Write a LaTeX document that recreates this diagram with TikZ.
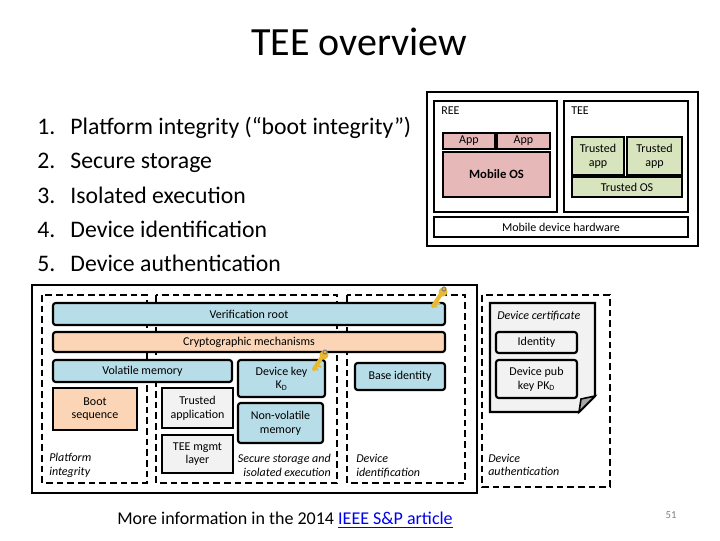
\documentclass[tikz,border=0pt]{standalone}
\usepackage{fontspec}
\setmainfont{Carlito}
\usetikzlibrary{calc}
\definecolor{cblue}{HTML}{B7DDE8}
\definecolor{corange}{HTML}{FBD5B5}
\definecolor{cpink}{HTML}{E6B9B8}
\definecolor{cgreen}{HTML}{D7E4BD}
\definecolor{cgray}{HTML}{F2F2F2}
\definecolor{cgold}{HTML}{E8B830}
\definecolor{clink}{HTML}{0000EE}
\begin{document}
\begin{tikzpicture}[x=0.75pt,y=-0.75pt,
  box/.style={draw,line width=1.6pt,rounded corners=2pt,align=center,font=\fontsize{9}{10.3}\selectfont,inner sep=0pt},
  sq/.style={draw,line width=1.6pt,align=center,font=\fontsize{9}{10.3}\selectfont,inner sep=0pt},
  dbox/.style={draw,line width=1.5pt,dash pattern=on 5pt off 3pt},
  lbl/.style={font=\itshape\fontsize{9}{10.3}\selectfont,align=left,inner sep=0pt},
  small/.style={font=\fontsize{9}{10.3}\selectfont,inner sep=0pt}]
\useasboundingbox (0,0) rectangle (720,540);
\fill[white] (0,0) rectangle (720,540);
% title and list
\node[font=\fontsize{30}{33}\selectfont] (title) at (359,42) {TEE overview};
\foreach \i/\t/\y in {1/Platform integrity (“boot integrity”)/127,2/Secure storage/161,3/Isolated execution/196,4/Device identification/230,5/Device authentication/264}
  \node[anchor=base west,font=\fontsize{17.8}{20}\selectfont,inner sep=0pt] (l\i) at (37,\y+7) {\makebox[1.4em][l]{\i.}\t};
% architecture
\node[draw,line width=1.6pt,minimum width=271*0.75pt,minimum height=154*0.75pt] (arch) at (562.5,169) {};
\node[draw,line width=1.6pt,minimum width=123*0.75pt,minimum height=111*0.75pt] (ree) at (495.5,156.5) {};
\node[draw,line width=1.6pt,minimum width=124*0.75pt,minimum height=111*0.75pt] (tee) at (626,156.5) {};
\node[small,anchor=north west] (reel) at (441,107) {REE};
\node[small,anchor=north west] (teel) at (571,107) {TEE};
\node[sq,fill=cpink,minimum width=52*0.75pt,minimum height=16*0.75pt] (app1) at (469,141) {App};
\node[sq,fill=cpink,minimum width=53*0.75pt,minimum height=16*0.75pt] (app2) at (523.5,141) {App};
\node[sq,fill=cpink,minimum width=107*0.75pt,minimum height=45*0.75pt,font=\bfseries\fontsize{9.5}{11}\selectfont] (mos) at (496.5,174.5) {Mobile OS};
\node[sq,fill=cgreen,minimum width=52*0.75pt,minimum height=38*0.75pt] (ta1) at (598,156) {Trusted\\app};
\node[sq,fill=cgreen,minimum width=55*0.75pt,minimum height=38*0.75pt] (ta2) at (654.5,156) {Trusted\\app};
\node[sq,fill=cgreen,minimum width=110*0.75pt,minimum height=20*0.75pt] (tos) at (627,187) {Trusted OS};
\node[sq,minimum width=254*0.75pt,minimum height=20*0.75pt] (hw) at (561,227) {Mobile device hardware};
% bottom left
\node[draw,line width=1.6pt,minimum width=445*0.75pt,minimum height=208*0.75pt] (outer) at (254.5,389) {};
\draw[dbox] (42,295) rectangle (147,483);
\draw[dbox] (156,295) rectangle (337,483);
\draw[dbox] (347,295) rectangle (465,483);
\node[box,fill=cblue,minimum width=392*0.75pt,minimum height=22*0.75pt] (vr) at (249,314) {Verification root};
\node[box,fill=corange,minimum width=392*0.75pt,minimum height=20*0.75pt] (cm) at (249,342) {Cryptographic mechanisms};
\node[box,fill=cblue,minimum width=179*0.75pt,minimum height=22*0.75pt] (vm) at (142.5,371) {Volatile memory};
\node[box,fill=cblue,minimum width=87*0.75pt,minimum height=37*0.75pt] (dk) at (281.5,378.5) {Device key\\K\textsubscript{D}};
\node[sq,fill=corange,minimum width=84*0.75pt,minimum height=42*0.75pt] (boot) at (95,409) {Boot\\sequence};
\node[sq,fill=cgray,minimum width=71*0.75pt,minimum height=40*0.75pt] (tapp) at (197.5,408) {Trusted\\application};
\node[sq,fill=cgray,minimum width=71*0.75pt,minimum height=38*0.75pt] (mgmt) at (197.5,454) {TEE mgmt\\layer};
\node[box,fill=cblue,minimum width=85*0.75pt,minimum height=40*0.75pt] (nvm) at (280.5,423) {Non-volatile\\memory};
\node[box,fill=cblue,minimum width=90*0.75pt,minimum height=27*0.75pt] (bid) at (400,376.5) {Base identity};
\node[lbl,anchor=west] (pil) at (49,465) {Platform\\integrity};
\node[lbl,anchor=east,align=right] (ssl) at (331,465) {Secure storage and\\isolated execution};
\node[lbl,anchor=west] (dil) at (356,466) {Device\\identification};
% auth
\draw[dbox] (482,295) rectangle (610,487);
\draw[line width=1.6pt,fill=cgray] (490,303) -- (595,303) -- (595,396) -- (579,412) -- (490,412) -- cycle;
\draw[line width=1.2pt,fill=gray!70] (595,396) -- (581,399) -- (579,412) -- cycle;
\node[lbl,anchor=west] (dc) at (497,316) {Device certificate};
\node[box,fill=cgray,minimum width=81*0.75pt,minimum height=21*0.75pt] (idn) at (536.5,342.5) {Identity};
\node[box,fill=cgray,minimum width=81*0.75pt,minimum height=38*0.75pt] (pk) at (536.5,379) {Device pub\\key PK\textsubscript{D}};
\node[lbl,anchor=west] (dal) at (488,465) {Device\\authentication};
% keys
\foreach \kx/\ky in {433/306, 314/369}{
  \draw[line width=3pt,cgold,line cap=round] (\kx,\ky) -- (\kx+8,\ky-12);
  \draw[line width=1.6pt,cgold] (\kx+3,\ky-4) -- (\kx+7,\ky-2);
  \draw[line width=1.6pt,cgold] (\kx+1,\ky-1) -- (\kx+4,\ky+1);
  \fill[cgold] (\kx+10,\ky-14) circle (4.5);
  \draw[gray,line width=0.8pt] (\kx+11,\ky-17) circle (2);
}
% footer
\node[font=\fontsize{13.5}{15}\selectfont] (more) at (285,520) {More information in the 2014 \textcolor{clink}{\underline{IEEE S\&P article}}};
\node[font=\fontsize{8}{9}\selectfont,text=gray] (pg) at (671,515) {51};
\end{tikzpicture}
\end{document}
